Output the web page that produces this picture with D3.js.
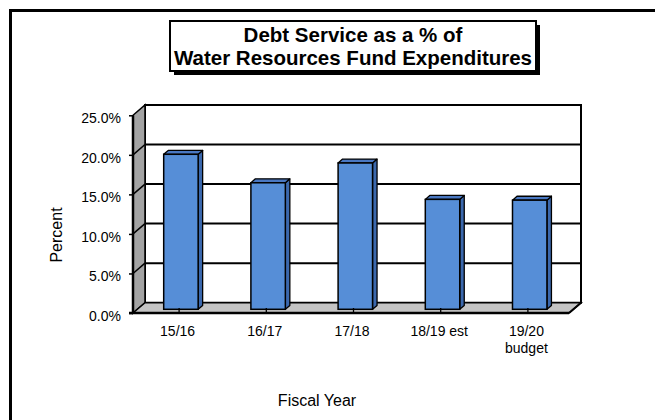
<!DOCTYPE html>
<html>
<head>
<meta charset="utf-8">
<script src="https://cdn.jsdelivr.net/npm/d3@7"></script>
<style>
  html, body { margin: 0; padding: 0; background: #fff; }
  svg { display: block; font-family: "Liberation Sans", Arial, sans-serif; }
</style>
</head>
<body>
<script>
// Debt service share of fund expenditures, by fiscal year
const categories = ["15/16", "16/17", "17/18", "18/19 est", "19/20 budget"];
const categoryLines = [["15/16"], ["16/17"], ["17/18"], ["18/19 est"], ["19/20", "budget"]];
const values = [19.6, 16.0, 18.5, 13.9, 13.8];
const yTicks = [0, 5, 10, 15, 20, 25];
const titleLines = ["Debt Service as a % of", "Water Resources Fund Expenditures"];
const xTitle = "Fiscal Year";
const yTitle = "Percent";

const W = 655, H = 420;
const svg = d3.select("body").append("svg").attr("width", W).attr("height", H);

// outer frame (runs past the right and bottom edges)
svg.append("rect")
  .attr("x", 10.5).attr("y", 10.5).attr("width", 720).attr("height", 520)
  .attr("fill", "none").attr("stroke", "#000").attr("stroke-width", 3);

// 3D box geometry: front plane plus a receding depth offset
const X0 = 133, X1 = 569;
const DX = 12, DY = 10.3;
const x = d3.scaleBand().domain(categories).range([X0, X1]);
const y = d3.scaleLinear().domain([0, 25]).range([313, 115.3]);
const bw = x.bandwidth();
const y0 = y(0);

const g = svg.append("g");

// back wall
g.append("polygon")
  .attr("points", [[X0 + DX, y(25) - DY], [X1 + DX, y(25) - DY], [X1 + DX, y0 - DY], [X0 + DX, y0 - DY]].join(" "))
  .attr("fill", "#fff").attr("stroke", "#000").attr("stroke-width", 2);

// side wall
g.append("polygon")
  .attr("points", [[X0, y0], [X0, y(25)], [X0 + DX, y(25) - DY], [X0 + DX, y0 - DY]].join(" "))
  .attr("fill", "#a3a3a3").attr("stroke", "#000").attr("stroke-width", 1.5);

// floor
g.append("polygon")
  .attr("points", [[X0, y0], [X1, y0], [X1 + DX, y0 - DY], [X0 + DX, y0 - DY]].join(" "))
  .attr("fill", "#c4c4c4").attr("stroke", "#000").attr("stroke-width", 1.5);

// gridlines on back wall and side wall
const gridVals = yTicks.filter(v => v > 0 && v < 25);
g.selectAll(".grid-back").data(gridVals).join("line")
  .attr("x1", X0 + DX).attr("x2", X1 + DX)
  .attr("y1", v => y(v) - DY).attr("y2", v => y(v) - DY)
  .attr("stroke", "#000").attr("stroke-width", 2);
g.selectAll(".grid-side").data(gridVals).join("line")
  .attr("x1", X0).attr("x2", X0 + DX)
  .attr("y1", v => y(v)).attr("y2", v => y(v) - DY)
  .attr("stroke", "#000").attr("stroke-width", 1.5);

// bars (front face, side, top)
const t0 = 0.36, barW = bw * 0.395, sdx = 4.5, sdy = 3.9;
const bars = g.selectAll(".bar").data(values.map((v, i) => ({ v, c: categories[i] }))).join("g");
bars.each(function (d) {
  const sel = d3.select(this);
  const xl = x(d.c) + (bw - barW) / 2 + DX * t0;
  const yt = y(d.v) - DY * t0;
  const yb = y0 - DY * t0;
  sel.append("polygon")
    .attr("points", [[xl + barW, yt], [xl + barW + sdx, yt - sdy], [xl + barW + sdx, yb - sdy], [xl + barW, yb]].join(" "))
    .attr("fill", "#3b68ad").attr("stroke", "#000").attr("stroke-width", 1.3).attr("stroke-linejoin", "round");
  sel.append("polygon")
    .attr("points", [[xl, yt], [xl + barW, yt], [xl + barW + sdx, yt - sdy], [xl + sdx, yt - sdy]].join(" "))
    .attr("fill", "#4a78c2").attr("stroke", "#000").attr("stroke-width", 1.3).attr("stroke-linejoin", "round");
  sel.append("rect")
    .attr("x", xl).attr("y", yt).attr("width", barW).attr("height", yb - yt)
    .attr("fill", "#568ed7").attr("stroke", "#000").attr("stroke-width", 1.5);
});

// category tick marks on the floor's front edge
g.selectAll(".xtick").data(categories).join("line")
  .attr("x1", c => x(c) + bw / 2 + 2.5).attr("x2", c => x(c) + bw / 2 + 2.5)
  .attr("y1", y0 - 5).attr("y2", y0)
  .attr("stroke", "#000").attr("stroke-width", 1.3);

// front edges
g.append("line").attr("x1", X0 - 4).attr("x2", X1).attr("y1", y0).attr("y2", y0)
  .attr("stroke", "#000").attr("stroke-width", 2.5);
g.append("line").attr("x1", X0).attr("x2", X0).attr("y1", y(25)).attr("y2", y0)
  .attr("stroke", "#000").attr("stroke-width", 2.5);
g.append("line").attr("x1", X1).attr("x2", X1 + DX).attr("y1", y0).attr("y2", y0 - DY)
  .attr("stroke", "#000").attr("stroke-width", 2);

// y axis on the side wall's front edge
const yAxis = d3.axisLeft(y).tickValues(yTicks)
  .tickFormat(v => d3.format(".1f")(v) + "%").tickSize(4).tickPadding(8);
const ya = svg.append("g").attr("transform", `translate(${X0},0)`).call(yAxis);
ya.select(".domain").remove();
ya.selectAll(".tick line").attr("stroke", "#000").attr("stroke-width", 1.5);
ya.selectAll("text").attr("font-size", 14).attr("font-family", null).attr("fill", "#000").attr("dy", "0.52em");

// category axis labels
const xAxis = d3.axisBottom(x).tickSize(0).tickPadding(0);
const xa = svg.append("g").attr("transform", `translate(1,${y0})`).call(xAxis);
xa.select(".domain").remove();
xa.selectAll(".tick text").each(function (c) {
  const t = d3.select(this).text(null).attr("dy", null).attr("y", null)
    .attr("font-size", 14).attr("font-family", null).attr("fill", "#000");
  categoryLines[categories.indexOf(c)].forEach((line, i) => {
    t.append("tspan").attr("x", 0).attr("y", 22.5 + i * 17).text(line);
  });
});

// axis titles
svg.append("text").attr("x", 317).attr("y", 405.5).attr("text-anchor", "middle")
  .attr("font-size", 16).text(xTitle);
svg.append("text").attr("transform", "translate(62,235) rotate(-90)")
  .attr("text-anchor", "middle").attr("font-size", 16).text(yTitle);

// title box with drop shadow
svg.append("rect").attr("x", 174).attr("y", 25).attr("width", 366).attr("height", 50).attr("fill", "#000");
svg.append("rect").attr("x", 170).attr("y", 21).attr("width", 366).attr("height", 50)
  .attr("fill", "#fff").attr("stroke", "#000").attr("stroke-width", 2);
svg.append("g").selectAll("text").data(titleLines).join("text")
  .attr("x", 353).attr("y", (d, i) => 42 + i * 23)
  .attr("text-anchor", "middle").attr("font-weight", "bold").attr("font-size", 20.5)
  .text(d => d);
</script>
</body>
</html>
